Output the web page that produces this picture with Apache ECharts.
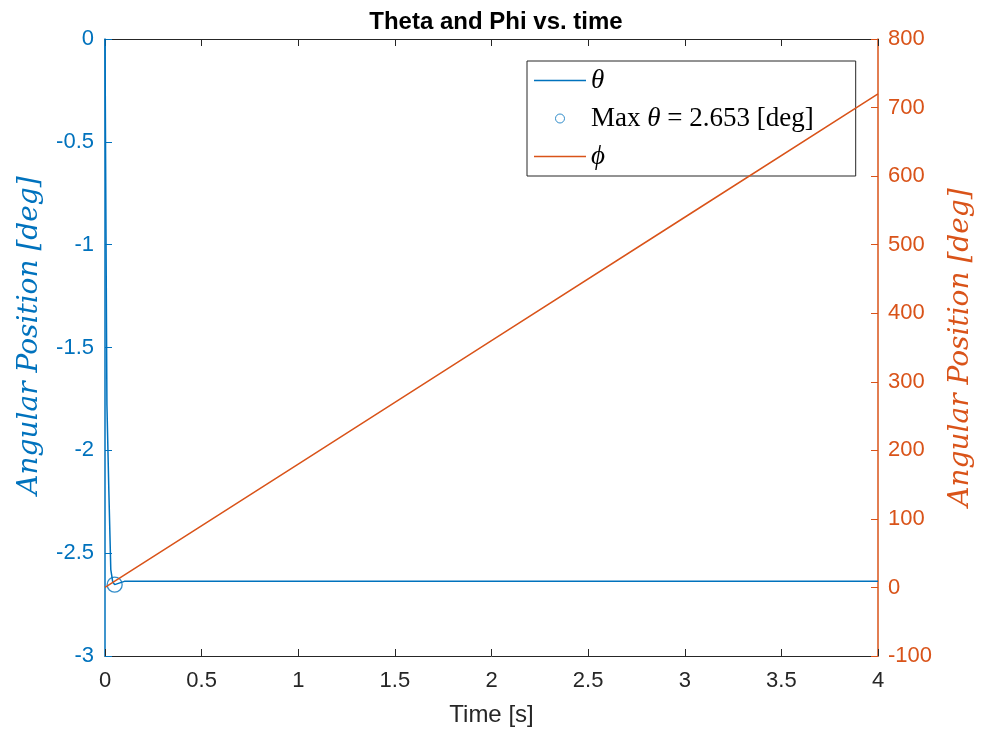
<!DOCTYPE html>
<html>
<head>
<meta charset="utf-8">
<script src="https://cdn.jsdelivr.net/npm/echarts@6/dist/echarts.min.js"></script>
<style>
html,body{margin:0;padding:0;background:#fff;}
#chart{width:981px;height:736px;}
</style>
</head>
<body>
<div id="chart"></div>
<script>
// ---- data ----
const thetaTime = [0, 0.005, 0.01, 0.02, 0.03, 0.04, 0.05, 0.1, 1, 2, 3, 4];
const thetaDeg  = [0, -0.92, -1.78, -2.2, -2.58, -2.64, -2.653, -2.637, -2.637, -2.637, -2.637, -2.637];
const maxTime = [0.05];
const maxTheta = [-2.653];
const phiTime = [0, 1, 2, 3, 4];
const phiDeg  = [0, 180, 360, 540, 720];
const xTicks = {min: 0, max: 4, interval: 0.5};
const leftTicks = {min: -3, max: 0, interval: 0.5};
const rightTicks = {min: -100, max: 800, interval: 100};
const seriesNames = ['θ', 'Max θ = 2.653 [deg]', 'ϕ'];
const titleText = 'Theta and Phi vs. time';
const xName = 'Time [s]';
const yName = 'Angular Position [deg]';

const BLUE = '#0072BD', ORANGE = '#D95319', DARK = '#262626';
const zip = (a, b) => a.map((v, i) => [v, b[i]]);

const chart = echarts.init(document.getElementById('chart'), null, {renderer: 'canvas'});
const sans = 'Liberation Sans, Arial, Helvetica, sans-serif';
const serif = 'Liberation Serif, Times New Roman, serif';
const nameFont = {fontFamily: 'DejaVu Serif', fontStyle: 'italic', fontSize: 28};

const LF = 27;
const legendRich = {
  n: {fontFamily: serif, fontSize: LF, color: '#000'},
  i: {fontFamily: serif, fontStyle: 'italic', fontSize: LF, color: '#000'}
};
const legendFormat = {
  [seriesNames[0]]: '{i|θ}',
  [seriesNames[1]]: '{n|Max }{i|θ}{n| = 2.653 [deg]}',
  [seriesNames[2]]: '{i|ϕ}'
};
const linePath = 'path://M0,0h52v1.4h-52z';

const xAxisBase = {
  type: 'value', min: xTicks.min, max: xTicks.max, interval: xTicks.interval,
  axisLine: {show: true, onZero: false, lineStyle: {color: DARK, width: 1}},
  axisTick: {show: true, inside: true, length: 7, lineStyle: {color: DARK}},
  splitLine: {show: false}
};

chart.setOption({
  animation: false,
  backgroundColor: '#fff',
  title: {
    text: titleText, left: 491, top: 5, textAlign: 'center',
    textStyle: {fontFamily: sans, fontWeight: 'bold', fontSize: 24, color: '#000'}
  },
  grid: {left: 105, right: 103, top: 39, bottom: 80, containLabel: false, outerBoundsMode: 'none'},
  legend: {
    orient: 'vertical', left: 527, top: 61,
    backgroundColor: '#fff', borderColor: DARK, borderWidth: 1,
    padding: [6, 42, 6, 7], itemGap: 11, itemWidth: 52, itemHeight: 9,
    selectedMode: false,
    textStyle: {rich: legendRich, fontFamily: serif, fontSize: LF, color: '#000'},
    formatter: n => legendFormat[n],
    data: [
      {name: seriesNames[0], icon: linePath, itemStyle: {color: BLUE}},
      {name: seriesNames[1], icon: 'circle', itemStyle: {color: '#fff', borderColor: BLUE, borderWidth: 1}},
      {name: seriesNames[2], icon: linePath, itemStyle: {color: ORANGE}}
    ]
  },
  xAxis: [Object.assign({}, xAxisBase, {
    position: 'bottom',
    name: xName, nameLocation: 'middle', nameGap: 47,
    nameTextStyle: {fontFamily: sans, fontSize: 24, color: DARK},
    axisLabel: {fontFamily: sans, fontSize: 22, color: DARK, margin: 14}
  }), Object.assign({}, xAxisBase, {
    position: 'top', axisLabel: {show: false}
  })],
  yAxis: [{
    type: 'value', position: 'left', min: leftTicks.min, max: leftTicks.max, interval: leftTicks.interval,
    name: yName, nameLocation: 'middle', nameRotate: 90, nameGap: 61,
    nameTextStyle: Object.assign({color: BLUE, padding: [0, 0, 0, 24]}, nameFont),
    axisLine: {show: true, onZero: false, lineStyle: {color: BLUE, width: 1.5}},
    axisTick: {show: true, inside: true, length: 7, lineStyle: {color: BLUE}},
    axisLabel: {fontFamily: sans, fontSize: 22, color: BLUE, margin: 11},
    splitLine: {show: false}
  }, {
    type: 'value', position: 'right', min: rightTicks.min, max: rightTicks.max, interval: rightTicks.interval,
    name: yName, nameLocation: 'middle', nameRotate: 90, nameGap: 69,
    nameTextStyle: Object.assign({color: ORANGE}, nameFont),
    axisLine: {show: true, onZero: false, lineStyle: {color: ORANGE, width: 1.5}},
    axisTick: {show: true, inside: true, length: 7, lineStyle: {color: ORANGE}},
    axisLabel: {fontFamily: sans, fontSize: 22, color: ORANGE, margin: 10},
    splitLine: {show: false}
  }],
  series: [{
    name: seriesNames[0], type: 'line', xAxisIndex: 0, yAxisIndex: 0,
    data: zip(thetaTime, thetaDeg), symbol: 'none', showSymbol: false,
    lineStyle: {color: BLUE, width: 1.5}, itemStyle: {color: BLUE}, z: 2
  }, {
    name: seriesNames[1], type: 'scatter', xAxisIndex: 0, yAxisIndex: 0,
    data: zip(maxTime, maxTheta), symbol: 'circle', symbolSize: 15,
    itemStyle: {color: 'rgba(0,0,0,0)', borderColor: BLUE, borderWidth: 1.3}, z: 3
  }, {
    name: seriesNames[2], type: 'line', xAxisIndex: 0, yAxisIndex: 1,
    data: zip(phiTime, phiDeg), symbol: 'none', showSymbol: false,
    lineStyle: {color: ORANGE, width: 1.5}, itemStyle: {color: ORANGE}, z: 4
  }]
});
</script>
</body>
</html>
